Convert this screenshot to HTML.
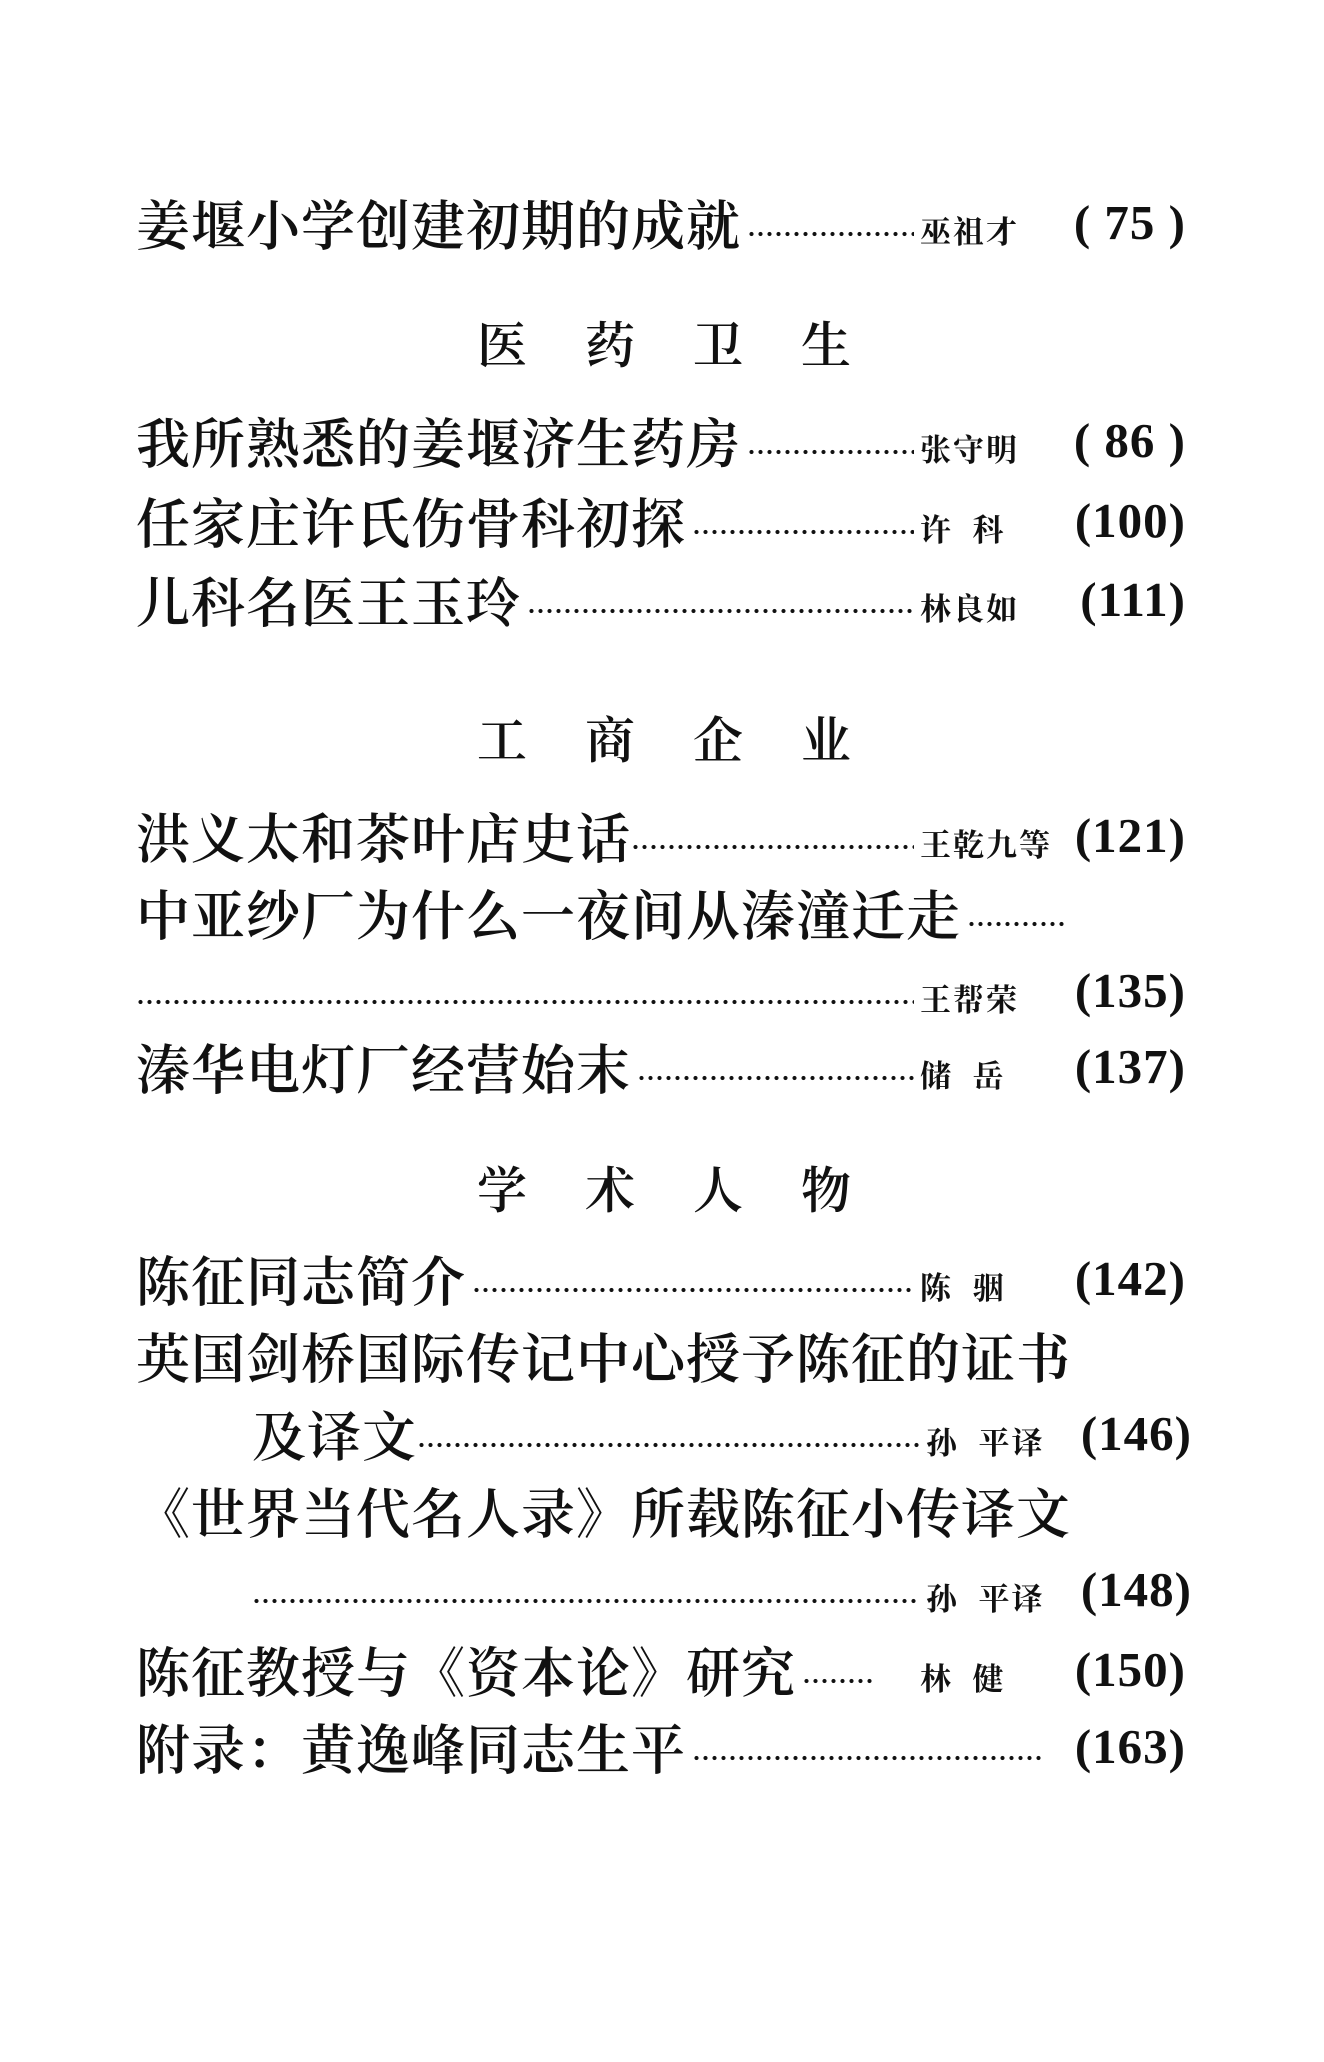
<!DOCTYPE html>
<html><head><meta charset="utf-8">
<style>
body{margin:0;width:1324px;height:2062px;background:#fff;position:relative;overflow:hidden;color:#111;font-family:"Liberation Serif","Noto Serif CJK SC",serif}
.l{position:absolute;left:136px;width:1050px;height:70px;display:flex;align-items:center;font-size:54px;font-weight:600;white-space:nowrap}
.t{font-family:"Liberation Serif","Noto Serif CJK SC",serif;letter-spacing:1px}
.d{flex:1;height:70px;margin:0 6px;background-image:radial-gradient(circle,#111 1.8px,transparent 2.3px);background-size:9px 70px;background-position:0 12px;background-repeat:repeat-x}
.a{width:128px;font-size:31px;font-weight:700;letter-spacing:2px;padding-top:14px;white-space:pre}
.p{width:138px;text-align:right;font-size:49px;font-weight:700;font-family:"Liberation Serif",serif;letter-spacing:1px}
.h{position:absolute;left:477px;font-size:50px;font-weight:600;letter-spacing:58px;font-family:"Liberation Serif","Noto Serif CJK SC",serif}
</style></head><body>
<div class="l" style="top:187px"><span class="t">姜堰小学创建初期的成就</span><span class="d"></span><span class="a">巫祖才</span><span class="p">( 75 )</span></div>
<div class="h" style="top:306px">医药卫生</div>
<div class="l" style="top:405px"><span class="t">我所熟悉的姜堰济生药房</span><span class="d"></span><span class="a">张守明</span><span class="p">( 86 )</span></div>
<div class="l" style="top:485px"><span class="t">任家庄许氏伤骨科初探</span><span class="d"></span><span class="a">许  科</span><span class="p">(100)</span></div>
<div class="l" style="top:564px"><span class="t">儿科名医王玉玲</span><span class="d"></span><span class="a">林良如</span><span class="p">(111)</span></div>
<div class="h" style="top:701px">工商企业</div>
<div class="l" style="top:800px"><span class="t">洪义太和茶叶店史话</span><span class="d" style="margin-left:0"></span><span class="a">王乾九等</span><span class="p">(121)</span></div>
<div class="l" style="top:877px;width:950px"><span class="t">中亚纱厂为什么一夜间从溱潼迁走</span><span class="d" style="flex:0 0 100px"></span></div>
<div class="l" style="top:955px"><span class="d" style="margin-left:0"></span><span class="a">王帮荣</span><span class="p">(135)</span></div>
<div class="l" style="top:1031px"><span class="t">溱华电灯厂经营始末</span><span class="d"></span><span class="a">储  岳</span><span class="p">(137)</span></div>
<div class="h" style="top:1151px">学术人物</div>
<div class="l" style="top:1243px"><span class="t">陈征同志简介</span><span class="d"></span><span class="a">陈  骃</span><span class="p">(142)</span></div>
<div class="l" style="top:1320px"><span class="t">英国剑桥国际传记中心授予陈征的证书</span></div>
<div class="l" style="top:1398px;left:252px;width:940px"><span class="t">及译文</span><span class="d" style="margin-left:0"></span><span class="a">孙  平译</span><span class="p">(146)</span></div>
<div class="l" style="top:1475px"><span class="t">《世界当代名人录》所载陈征小传译文</span></div>
<div class="l" style="top:1554px;left:252px;width:940px"><span class="d" style="margin-left:0"></span><span class="a">孙  平译</span><span class="p">(148)</span></div>
<div class="l" style="top:1634px"><span class="t">陈征教授与《资本论》研究</span><span class="d" style="flex:0 0 70px"></span><span style="flex:1"></span><span class="a">林  健</span><span class="p">(150)</span></div>
<div class="l" style="top:1711px"><span class="t">附录：黄逸峰同志生平</span><span class="d"></span><span class="p">(163)</span></div>
</body></html>
